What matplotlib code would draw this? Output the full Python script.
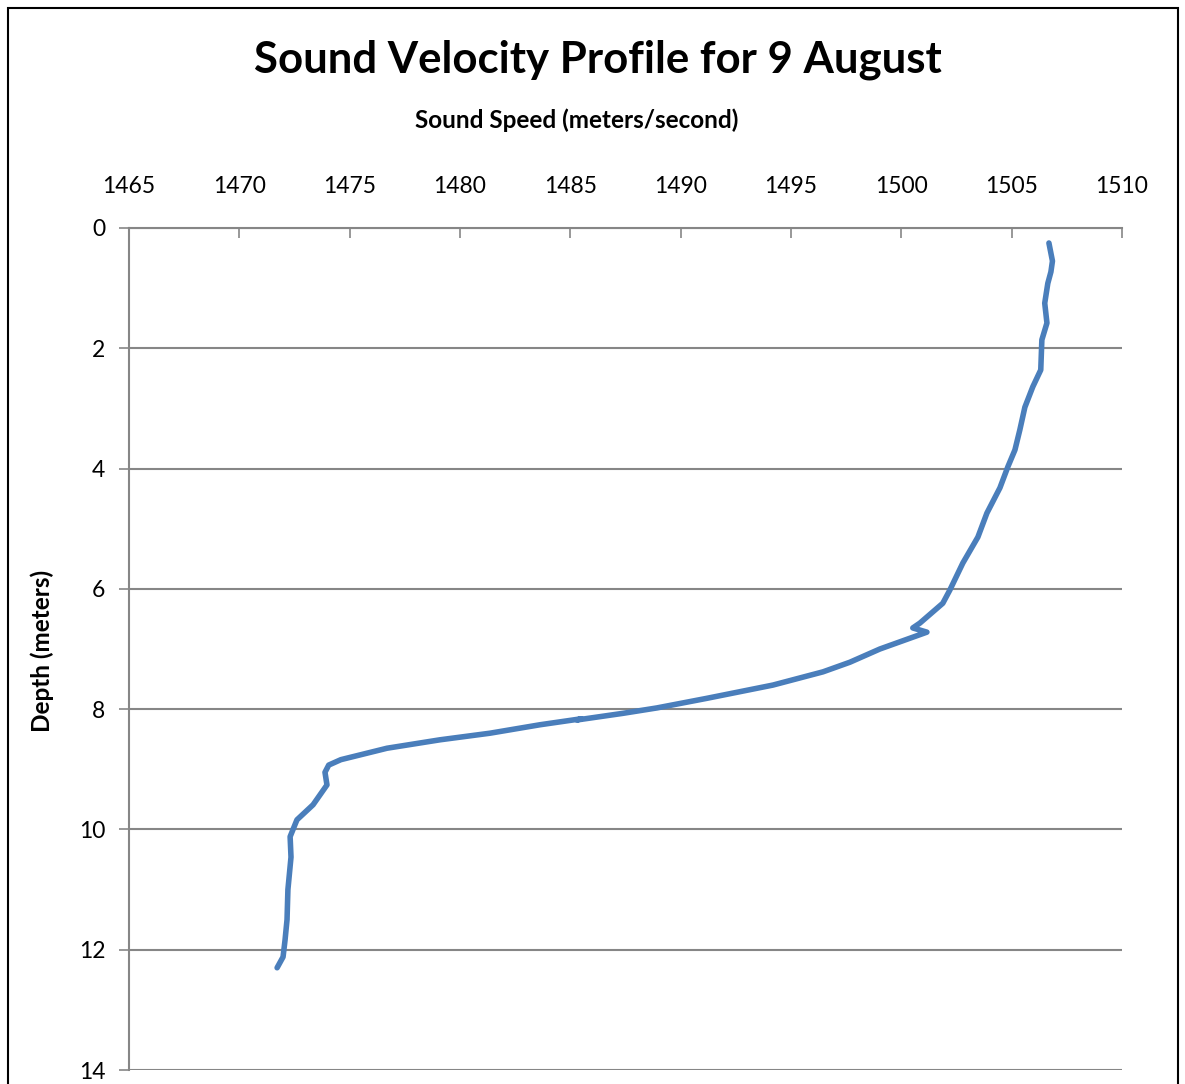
import matplotlib
matplotlib.use("Agg")
import matplotlib.pyplot as plt
from matplotlib.patches import Rectangle

# Sound speed (m/s) and depth (m) read from the cast
speed = [1506.69, 1506.85, 1506.78, 1506.64, 1506.50, 1506.60, 1506.37, 1506.32,
         1505.96, 1505.60, 1505.37, 1505.15, 1504.83, 1504.47, 1503.88, 1503.47,
         1502.79, 1502.20, 1501.88, 1500.84, 1500.52, 1501.16, 1499.03, 1497.67,
         1496.45, 1494.18, 1491.19, 1488.92, 1487.38, 1485.30, 1485.50, 1483.62,
         1481.36, 1479.09, 1476.69, 1474.60, 1474.05, 1473.88, 1473.97, 1473.34,
         1472.61, 1472.30, 1472.34, 1472.20, 1472.16, 1472.07, 1471.98, 1471.71]
depth = [0.25, 0.55, 0.73, 0.92, 1.25, 1.58, 1.86, 2.36,
         2.64, 2.98, 3.36, 3.69, 3.97, 4.32, 4.74, 5.14,
         5.57, 6.02, 6.24, 6.57, 6.65, 6.72, 7.00, 7.22,
         7.38, 7.60, 7.82, 7.98, 8.07, 8.18, 8.16, 8.26,
         8.40, 8.51, 8.65, 8.84, 8.93, 9.05, 9.26, 9.59,
         9.84, 10.12, 10.46, 11.00, 11.50, 11.84, 12.12, 12.30]

x_ticks = [1465, 1470, 1475, 1480, 1485, 1490, 1495, 1500, 1505, 1510]
y_ticks = [0, 2, 4, 6, 8, 10, 12, 14]

plt.rcParams["font.family"] = ["Lato", "DejaVu Sans"]
GRID = "#868686"

fig = plt.figure(figsize=(11.85, 10.84), dpi=100)
ax = fig.add_axes([0.1089, 0.0129, 0.8379, 0.7768])

ax.plot(speed, depth, color="#4A7EBB", linewidth=4.0, solid_capstyle="round",
        solid_joinstyle="round", zorder=3)

ax.set_xlim(1465, 1510)
ax.set_ylim(14, 0)
ax.xaxis.tick_top()
ax.set_xticks(x_ticks)
ax.set_yticks(y_ticks)
ax.tick_params(axis="x", direction="in", length=7, color=GRID, width=1.2,
               labelsize=16.5, pad=22)
ax.tick_params(axis="y", direction="out", length=7, color=GRID, width=1.2,
               labelsize=16.5, pad=10)
ax.grid(axis="y", color=GRID, linewidth=1.5)
ax.set_axisbelow(True)

for side in ("right", "bottom"):
    ax.spines[side].set_visible(False)
for side in ("top", "left"):
    ax.spines[side].set_color(GRID)
    ax.spines[side].set_linewidth(1.5)

fig.text(577 / 1185, 1 - 120 / 1084, "Sound Speed (meters/second)", ha="center",
         va="center", fontsize=17.5, fontweight="bold")
fig.text(42 / 1185, 1 - 651 / 1084, "Depth (meters)", ha="center", va="center",
         rotation=90, fontsize=17.5, fontweight="bold")
fig.text(598 / 1185, 1 - 60 / 1084, "Sound Velocity Profile for 9 August",
         ha="center", va="center", fontsize=31.5, fontweight="bold")

fig.patches.append(Rectangle((8 / 1185, -0.05), 1170 / 1185, 1.05 - 8 / 1084,
                             transform=fig.transFigure, fill=False,
                             edgecolor="black", linewidth=1.5))

fig.savefig("out.png", dpi=100)
